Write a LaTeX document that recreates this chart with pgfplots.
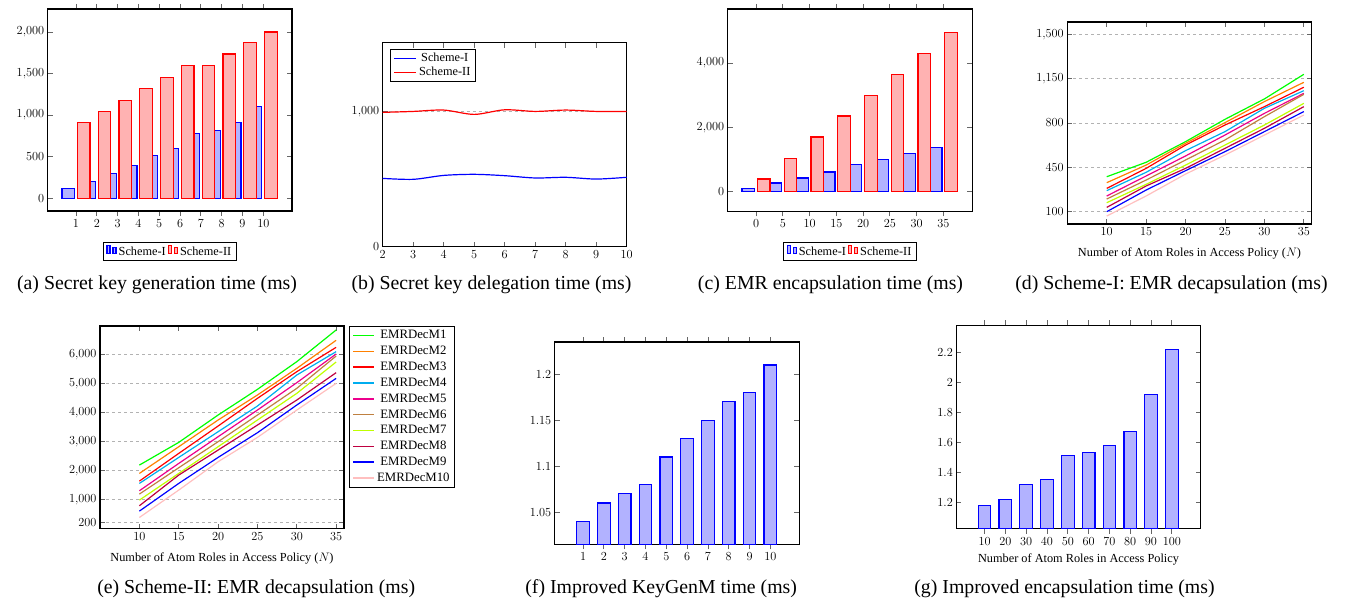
\RequirePackage{fix-cm}
\documentclass[border=0pt]{standalone}
\usepackage{fontspec}
\setmainfont{Liberation Serif}
\usepackage{pgfplots}
\pgfplotsset{compat=1.18}

% common look of all seven panels (1pt = 1px of the reference)
\pgfplotsset{
  sub/.style={
    scale only axis, anchor=north west,
    tick label style={font=\fontsize{12.3}{14}\selectfont},
    label style={font=\fontsize{12.3}{14}\selectfont},
    legend style={font=\fontsize{12.3}{14}\selectfont, draw=black, line width=1pt},
    legend cell align=center,
    axis line style={line width=1.3pt},
    every tick/.style={line width=0.8pt, black!60},
    major tick length=5pt,
    major grid style={dashed, gray!60, line width=0.8pt},
    every axis plot/.append style={line width=1.2pt},
  },
  barsub/.style={sub, ybar=2.8pt, bar width=12.6pt, xtick align=outside},
  linelegend/.style={legend image code/.code={\draw[##1, line width=1.6pt] (0pt,0pt) -- (#1,0pt);}},
}
\newcommand{\capfont}{\fontsize{19.8}{22}\selectfont}

\begin{document}
\begin{tikzpicture}
\path[use as bounding box] (0,0) rectangle (1352pt,-599pt);

% (a)
\begin{axis}[barsub, at={(47.7pt,-9pt)}, width=244.3pt, height=202pt,
  xmin=-0.36, xmax=11.38, ymin=-153, ymax=2277,
  xtick={1,...,10}, ytick={0,500,1000,1500,2000},
  legend style={at={(0.5,-0.1535)}, anchor=north, legend columns=-1}]
\addplot[draw=blue, fill=blue!30] coordinates {(1,120) (2,200) (3,300) (4,395) (5,510) (6,600) (7,780) (8,820) (9,910) (10,1100)};
\addlegendentry{Scheme-I}
\addplot[draw=red, fill=red!30] coordinates {(1,910) (2,1045) (3,1180) (4,1320) (5,1450) (6,1600) (7,1600) (8,1735) (9,1875) (10,2000)};
\addlegendentry{Scheme-II}
\end{axis}
\node[anchor=base, font=\capfont] at (157pt,-289pt) {(a) Secret key generation time (ms)};

% (b)
\begin{axis}[sub, at={(382.7pt,-42.7pt)}, width=244pt, height=204pt,
  xmin=2, xmax=10, ymin=0, ymax=1508,
  xtick={2,...,10}, ytick={0,1000}, ymajorgrids, legend pos=north west,
  linelegend=22pt]
\addplot[blue, smooth] coordinates {(2,505) (3,498) (4,527) (5,535) (6,525) (7,508) (8,513) (9,500) (10,513)};
\addlegendentry{Scheme-I}
\addplot[red, smooth] coordinates {(2,993) (3,1000) (4,1010) (5,978) (6,1012) (7,1000) (8,1010) (9,1000) (10,1000)};
\addlegendentry{Scheme-II}
\end{axis}
\node[anchor=base, font=\capfont] at (491.5pt,-289pt) {(b) Secret key delegation time (ms)};

% (c)
\begin{axis}[barsub, at={(727.7pt,-9pt)}, width=244.6pt, height=202.3pt,
  xmin=-5.29, xmax=40.4, ymin=-609, ymax=5678,
  xtick={0,5,...,35}, ytick={0,2000,4000},
  legend style={at={(0.5,-0.1535)}, anchor=north, legend columns=-1}]
\addplot[draw=blue, fill=blue!30] coordinates {(0,104) (5,269) (10,425) (15,611) (20,839) (25,1005) (30,1191) (35,1367)};
\addlegendentry{Scheme-I}
\addplot[draw=red, fill=red!30] coordinates {(0,394) (5,1036) (10,1699) (15,2352) (20,2994) (25,3647) (30,4300) (35,4952)};
\addlegendentry{Scheme-II}
\end{axis}
\node[anchor=base, font=\capfont] at (830.5pt,-289pt) {(c) EMR encapsulation time (ms)};

% (d)
\begin{axis}[sub, at={(1067.3pt,-22pt)}, width=244.4pt, height=202pt,
  xmin=5, xmax=36, ymin=3, ymax=1597,
  xtick={10,15,...,35}, ytick={100,450,800,1150,1500}, ymajorgrids,
  xlabel={Number of Atom Roles in Access Policy ($N$)},
  xlabel style={yshift=-6pt}]
\addplot[green]   coordinates {(10,376) (15,490) (20,653) (25,829) (30,990) (35,1184)};
\addplot[orange]  coordinates {(10,329) (15,468) (20,640) (25,803) (30,969) (35,1121)};
\addplot[red]     coordinates {(10,284) (15,442) (20,626) (25,784) (30,929) (35,1082)};
\addplot[cyan]    coordinates {(10,266) (15,411) (20,582) (25,732) (30,916) (35,1055)};
\addplot[magenta] coordinates {(10,224) (15,382) (20,540) (25,705) (30,876) (35,1034)};
\addplot[brown]   coordinates {(10,200) (15,350) (20,508) (25,666) (30,850) (35,1026)};
\addplot[lime]    coordinates {(10,171) (15,316) (20,468) (25,626) (30,784) (35,955)};
\addplot[purple]  coordinates {(10,134) (15,303) (20,442) (25,600) (30,758) (35,929)};
\addplot[blue]    coordinates {(10,100) (15,271) (20,424) (25,574) (30,732) (35,890)};
\addplot[pink]    coordinates {(10,66) (15,224) (20,397) (25,547) (30,705) (35,863)};
\end{axis}
\node[anchor=base, font=\capfont] at (1171.5pt,-289pt) {(d) Scheme-I: EMR decapsulation (ms)};

% (e)
\begin{axis}[sub, at={(100pt,-326pt)}, width=244pt, height=202.7pt,
  xmin=5, xmax=36, ymin=-7, ymax=6976,
  xtick={10,15,...,35}, ytick={200,1000,2000,3000,4000,5000,6000}, ymajorgrids,
  xlabel={Number of Atom Roles in Access Policy ($N$)},
  xlabel style={yshift=-6pt},
  linelegend=21pt,
  legend style={at={(1.0205,1)}, anchor=north west, row sep=1.9pt,
    font=\fontsize{12.8}{14}\selectfont}]
\addplot[green]   coordinates {(10,2184) (15,2966) (20,3908) (25,4793) (30,5747) (35,6839)};
\addlegendentry{EMRDecM1}
\addplot[orange]  coordinates {(10,1897) (15,2816) (20,3736) (25,4598) (30,5517) (35,6483)};
\addlegendentry{EMRDecM2}
\addplot[red]     coordinates {(10,1632) (15,2586) (20,3529) (25,4483) (30,5402) (35,6241)};
\addlegendentry{EMRDecM3}
\addplot[cyan]    coordinates {(10,1552) (15,2448) (20,3333) (25,4218) (30,5287) (35,6092)};
\addlegendentry{EMRDecM4}
\addplot[magenta] coordinates {(10,1299) (15,2241) (20,3161) (25,4080) (30,5023) (35,6011)};
\addlegendentry{EMRDecM5}
\addplot[brown]   coordinates {(10,1184) (15,2092) (20,2989) (25,3908) (30,4828) (35,5942)};
\addlegendentry{EMRDecM6}
\addplot[lime]    coordinates {(10,977) (15,1897) (20,2816) (25,3736) (30,4655) (35,5736)};
\addlegendentry{EMRDecM7}
\addplot[purple]  coordinates {(10,782) (15,1839) (20,2701) (25,3563) (30,4425) (35,5368)};
\addlegendentry{EMRDecM8}
\addplot[blue]    coordinates {(10,598) (15,1552) (20,2448) (25,3299) (30,4253) (35,5172)};
\addlegendentry{EMRDecM9}
\addplot[pink]    coordinates {(10,379) (15,1322) (20,2299) (25,3138) (30,4080) (35,5000)};
\addlegendentry{EMRDecM10}
\end{axis}
\node[anchor=base, font=\capfont] at (256.2pt,-593pt) {(e) Scheme-II: EMR decapsulation (ms)};

% (f)
\begin{axis}[barsub, at={(554.7pt,-342pt)}, width=244.6pt, height=202.3pt,
  xmin=-0.36, xmax=11.39, ymin=1.015, ymax=1.235,
  xtick={1,...,10}, ytick={1.05,1.1,1.15,1.2}]
\addplot[draw=blue, fill=blue!30] coordinates {(1,1.04) (2,1.06) (3,1.07) (4,1.08) (5,1.11) (6,1.13) (7,1.15) (8,1.17) (9,1.18) (10,1.21)};
\end{axis}
\node[anchor=base, font=\capfont] at (661.2pt,-593pt) {(f) Improved KeyGenM time (ms)};

% (g)
\begin{axis}[barsub, at={(956.3pt,-325.3pt)}, width=244.4pt, height=203.4pt,
  xmin=-3.6, xmax=113.9, ymin=1.024, ymax=2.38,
  xtick={10,20,...,100}, ytick={1.2,1.4,1.6,1.8,2,2.2},
  xlabel={Number of Atom Roles in Access Policy},
  xlabel style={yshift=-2pt}]
\addplot[draw=blue, fill=blue!30] coordinates {(10,1.18) (20,1.22) (30,1.32) (40,1.35) (50,1.51) (60,1.53) (70,1.58) (80,1.67) (90,1.92) (100,2.22)};
\end{axis}
\node[anchor=base, font=\capfont] at (1064.5pt,-593pt) {(g) Improved encapsulation time (ms)};
\end{tikzpicture}
\end{document}
